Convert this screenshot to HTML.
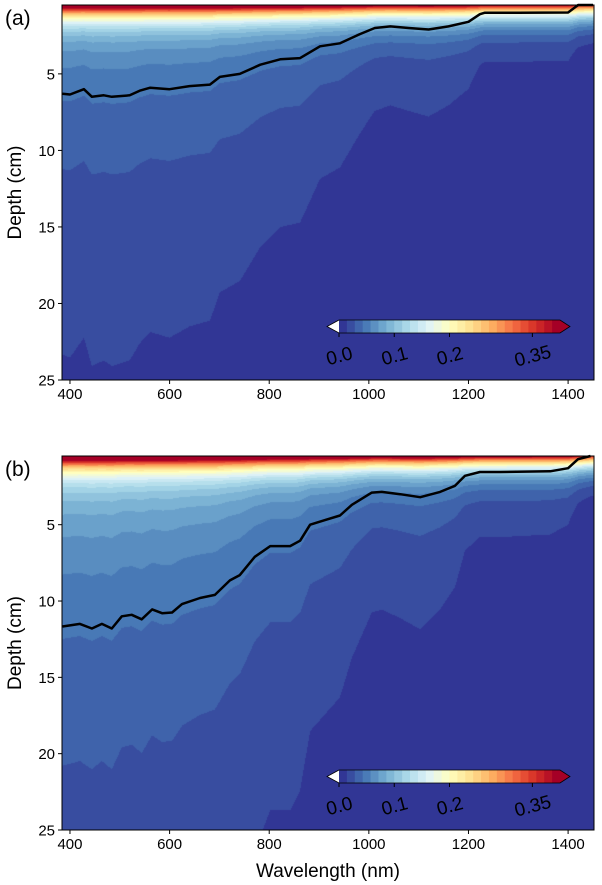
<!DOCTYPE html>
<html><head><meta charset="utf-8">
<style>
body{margin:0;background:#fff;width:602px;height:885px;overflow:hidden;font-family:"Liberation Sans",sans-serif;}
#wrap{position:relative;width:602px;height:885px;}
canvas{position:absolute;}
svg{position:absolute;left:0;top:0;}
</style></head>
<body>
<div id="wrap">
<canvas id="cA"></canvas>
<canvas id="cB"></canvas>
<svg id="ov" width="602" height="885"></svg>
</div>
<script>
// ---- data ----
const lineAnm=[385,400,428,444,468,484,520,540,561,600,640,681,701,741,782,822,862,902,942,982,1012,1043,1080,1120,1160,1200,1223,1233,1300,1400,1420,1450];
const lineAdepth=[6.3,6.35,6.0,6.5,6.4,6.5,6.4,6.1,5.9,6.0,5.8,5.7,5.2,5.0,4.4,4.05,3.97,3.2,3.0,2.4,2.0,1.9,2.0,2.1,1.9,1.6,1.1,1.0,1.0,0.99,0.5,0.3];
const lineBnm=[385,420,444,464,484,504,524,544,565,585,605,625,661,691,721,741,771,802,842,862,882,912,942,966,1006,1026,1063,1103,1143,1173,1193,1223,1263,1364,1400,1420,1445];
const lineBdepth=[11.67,11.5,11.8,11.5,11.8,11.0,10.9,11.2,10.55,10.8,10.75,10.2,9.8,9.6,8.65,8.3,7.1,6.4,6.4,6.05,5.0,4.7,4.4,3.7,2.9,2.85,3.0,3.2,2.85,2.45,1.8,1.55,1.55,1.5,1.3,0.7,0.4];
const xTicks=[400,600,800,1000,1200,1400];
const yTicks=[5,10,15,20,25];
const cbTicks=[0.0,0.1,0.2,0.35];
const cbLabels=["0.0","0.1","0.2","0.35"];
// ---- layout ----
const X0=62,X1=594,NM0=384,NM1=1452;
const panels=[{id:'a',top:5,bot:380,nm:lineAnm,dep:lineAdepth,cv:'cA',cby:320},
              {id:'b',top:456,bot:830,nm:lineBnm,dep:lineBdepth,cv:'cB',cby:770}];
const D0=0.5,D1=25,VMAX=0.4,NL=28;
const xs=nm=>X0+(nm-NM0)/(NM1-NM0)*(X1-X0);
const stops=["#313695","#4575b4","#74add1","#abd9e9","#e0f3f8","#ffffbf","#fee090","#fdae61","#f46d43","#d73027","#a50026"].map(h=>[1,3,5].map(i=>parseInt(h.substr(i,2),16)));
function cmap(t){t=Math.max(0,Math.min(1,t));const f=t*10,i=Math.min(9,Math.floor(f)),r=f-i;return stops[i].map((c,k)=>Math.round(c+(stops[i+1][k]-c)*r));}
function interp(xa,ya,x){if(x<=xa[0])return ya[0];for(let i=1;i<xa.length;i++){if(x<=xa[i]){const r=(x-xa[i-1])/(xa[i]-xa[i-1]);return ya[i-1]+r*(ya[i]-ya[i-1]);}}return ya[ya.length-1];}
function field(d,D){return 0.6*Math.exp(-2.59*Math.pow(d/D,0.28))+0.35*Math.exp(-(d-0.5)/0.7);}
const ov=document.getElementById('ov');const NS="http://www.w3.org/2000/svg";
function mk(tag,attrs,parent){const e=document.createElementNS(NS,tag);for(const k in attrs)e.setAttribute(k,attrs[k]);(parent||ov).appendChild(e);return e;}
const step=VMAX/NL;
panels.forEach(p=>{
  const ys=d=>p.top+(d-D0)/(D1-D0)*(p.bot-p.top);
  const W=X1-X0,H=p.bot-p.top;
  const cv=document.getElementById(p.cv);cv.width=W;cv.height=H;cv.style.left=X0+'px';cv.style.top=p.top+'px';
  const ctx=cv.getContext('2d');const img=ctx.createImageData(W,H);
  for(let px=0;px<W;px++){const nm=NM0+(px+0.5)/W*(NM1-NM0);const D=interp(p.nm,p.dep,nm);
    for(let py=0;py<H;py++){const d=D0+(py+0.5)/H*(D1-D0);const v=field(d,D);
      const lvl=Math.min(NL,Math.floor(v/step));const c=cmap(lvl/NL);const o=(py*W+px)*4;
      img.data[o]=c[0];img.data[o+1]=c[1];img.data[o+2]=c[2];img.data[o+3]=255;}}
  ctx.putImageData(img,0,0);
  const g=mk('g',{});
  
  
  let dstr='';p.nm.forEach((n,i)=>{dstr+=(i?'L':'M')+xs(n).toFixed(1)+' '+ys(Math.max(D0,p.dep[i])).toFixed(1);});
  const ln=mk('path',{d:dstr,fill:'none',stroke:'#000','stroke-width':2.5,'stroke-linejoin':'round'},g);
  
  
  const fr=mk('rect',{x:X0,y:p.top,width:X1-X0,height:p.bot-p.top,fill:'none',stroke:'#000','stroke-width':1},g);
  
  
  xTicks.forEach(t=>{const x=xs(t);mk('line',{x1:x,x2:x,y1:p.bot,y2:p.bot+4,stroke:'#000'},g);
    const tx=mk('text',{x:x,y:p.bot+19,'font-size':15,'text-anchor':'middle'},g);tx.textContent=t;
    
    });
  yTicks.forEach(t=>{const y=ys(t);mk('line',{x1:X0-4,x2:X0,y1:y,y2:y,stroke:'#000'},g);
    const tx=mk('text',{x:X0-7,y:y+5.5,'font-size':15,'text-anchor':'end'},g);tx.textContent=t;
    
    });
  const yl=mk('text',{x:0,y:0,'font-size':19,'text-anchor':'middle',transform:`translate(21,${(p.top+p.bot)/2}) rotate(-90)`},g);yl.textContent='Depth (cm)';
  
  
  const pl=mk('text',{x:5,y:p.top+20,'font-size':21},g);pl.textContent='('+p.id+')';
  
  
  // colorbar
  const cb=mk('g',{},g);
  
  
  const bx0=339,bx1=560,by=p.cby,bh=13;const cx=v=>bx0+v/VMAX*(bx1-bx0);
  mk('polygon',{points:`${bx0},${by} ${bx0-12},${by+bh/2} ${bx0},${by+bh}`,fill:'#fff',stroke:'none'},cb);
  const cr=cmap(1);mk('polygon',{points:`${bx1},${by} ${bx1+10},${by+bh/2} ${bx1},${by+bh}`,fill:`rgb(${cr})`},cb);
  for(let i=0;i<NL;i++){const c=cmap(i/(NL-1));mk('rect',{x:cx(i*step),y:by,width:cx(step)-bx0+0.5,height:bh,fill:`rgb(${c})`},cb);}
  mk('polygon',{points:`${bx0},${by} ${bx0-12},${by+bh/2} ${bx0},${by+bh} ${bx1},${by+bh} ${bx1+10},${by+bh/2} ${bx1},${by}`,fill:'none',stroke:'#000','stroke-width':0.8},cb);
  cbTicks.forEach((t,i)=>{const x=cx(t);mk('line',{x1:x,x2:x,y1:by+bh,y2:by+bh+4,stroke:'#000'},cb);
    const tx=mk('text',{x:0,y:0,'font-size':19,'text-anchor':'middle',transform:`translate(${x+2},${by+bh+29}) rotate(-15)`},cb);tx.textContent=cbLabels[i];
    
    });
});
const xl=mk('text',{x:328,y:877,'font-size':19,'text-anchor':'middle'});xl.textContent='Wavelength (nm)';


</script>
</body></html>
